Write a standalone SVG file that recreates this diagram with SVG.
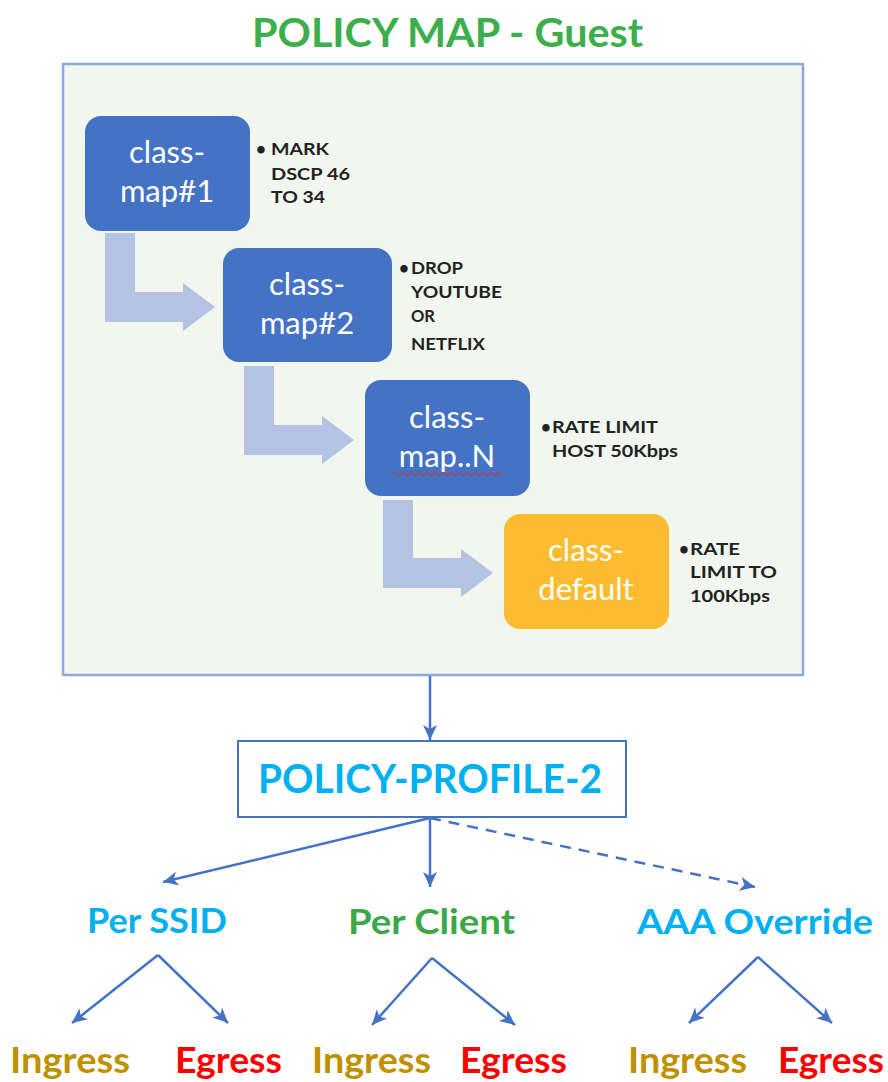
<svg xmlns="http://www.w3.org/2000/svg" width="888" height="1082" viewBox="0 0 888 1082">
<defs>
<marker id="ah" markerUnits="userSpaceOnUse" markerWidth="16" markerHeight="14" refX="15" refY="7" orient="auto">
<path d="M0,0 L15,7 L0,14 L4,7 Z" fill="#4472c4"/>
</marker>
<style>
.cm{fill:#4472c4;}
.cd{fill:#fcbc30;}
.cmt{font-family:Lato,"Liberation Sans",sans-serif;font-size:31px;fill:#ffffff;text-anchor:middle;}
.note{font-family:Lato,"Liberation Sans",sans-serif;font-size:17px;font-weight:bold;fill:#222222;}
.big{font-family:Lato,"Liberation Sans",sans-serif;font-weight:bold;}
.bent{fill:#b4c2e3;}
.ln{stroke:#4472c4;stroke-width:2.5;fill:none;marker-end:url(#ah);}
</style>
</defs>
<rect width="888" height="1082" fill="#ffffff"/>

<g id="title">
<text class="big" x="252" y="47" font-size="40" fill="#3cae4b" textLength="391" lengthAdjust="spacingAndGlyphs">POLICY MAP - Guest</text>
</g>

<g id="policy-map">
<rect x="63" y="64" width="740" height="611" fill="#f1f6ee" stroke="#8eaadc" stroke-width="2.5"/>
</g>

<g id="connectors">
<path class="bent" d="M105,233 L135,233 L135,292 L183,292 L183,283 L215,307 L183,331 L183,322 L105,322 Z"/>
<path class="bent" d="M244,366 L274,366 L274,425 L322,425 L322,416 L354,440 L322,464 L322,455 L244,455 Z"/>
<path class="bent" d="M383,500 L413,500 L413,558 L461,558 L461,549 L493,573 L461,597 L461,588 L383,588 Z"/>
<line class="ln" x1="430" y1="676" x2="430" y2="740"/>
<line class="ln" x1="430" y1="818" x2="163" y2="882"/>
<line class="ln" x1="430" y1="818" x2="430" y2="887"/>
<line class="ln" x1="430" y1="818" x2="755" y2="887" stroke-dasharray="11,8"/>
<line class="ln" x1="158" y1="955" x2="72" y2="1023"/>
<line class="ln" x1="158" y1="955" x2="228" y2="1023"/>
<line class="ln" x1="432" y1="958" x2="372" y2="1025"/>
<line class="ln" x1="432" y1="958" x2="515" y2="1025"/>
<line class="ln" x1="758" y1="957" x2="689" y2="1023"/>
<line class="ln" x1="758" y1="957" x2="832" y2="1023"/>
</g>

<g id="class-map-1">
<rect class="cm" x="85" y="116" width="165" height="115" rx="16"/>
<text class="cmt" x="167" y="163">class-</text>
<text class="cmt" x="167" y="202">map#1</text>
<text class="note" x="256" y="155">•</text>
<text class="note" x="271" y="155" textLength="58" lengthAdjust="spacingAndGlyphs">MARK</text>
<text class="note" x="271" y="180" textLength="79" lengthAdjust="spacingAndGlyphs">DSCP 46</text>
<text class="note" x="271" y="203" textLength="54" lengthAdjust="spacingAndGlyphs">TO 34</text>
</g>

<g id="class-map-2">
<rect class="cm" x="223" y="248" width="169" height="114" rx="16"/>
<text class="cmt" x="307" y="295">class-</text>
<text class="cmt" x="307" y="334">map#2</text>
<text class="note" x="399" y="274">•</text>
<text class="note" x="411" y="274" textLength="52" lengthAdjust="spacingAndGlyphs">DROP</text>
<text class="note" x="411" y="298" textLength="91" lengthAdjust="spacingAndGlyphs">YOUTUBE</text>
<text class="note" x="411" y="322" textLength="24" lengthAdjust="spacingAndGlyphs">OR</text>
<text class="note" x="411" y="350" textLength="74" lengthAdjust="spacingAndGlyphs">NETFLIX</text>
</g>

<g id="class-map-n">
<rect class="cm" x="365" y="380" width="165" height="116" rx="16"/>
<text class="cmt" x="447" y="428">class-</text>
<text class="cmt" x="447" y="467">map..N</text>
<path d="M393,474 q2,-3 4,0 t4,0 t4,0 t4,0 t4,0 t4,0 t4,0 t4,0 t4,0 t4,0 t4,0 t4,0 t4,0 t4,0 t4,0 t4,0 t4,0 t4,0 t4,0 t4,0 t4,0 t4,0 t4,0 t4,0 t4,0 t4,0 t4,0" fill="none" stroke="#d9342b" stroke-width="1.2"/>
<text class="note" x="541" y="433">•</text>
<text class="note" x="552" y="433" textLength="106" lengthAdjust="spacingAndGlyphs">RATE LIMIT</text>
<text class="note" x="552" y="457" textLength="126" lengthAdjust="spacingAndGlyphs">HOST 50Kbps</text>
</g>

<g id="class-default">
<rect class="cd" x="504" y="514" width="165" height="115" rx="16"/>
<text class="cmt" x="586" y="561">class-</text>
<text class="cmt" x="586" y="600">default</text>
<text class="note" x="679" y="555">•</text>
<text class="note" x="690" y="555" textLength="50" lengthAdjust="spacingAndGlyphs">RATE</text>
<text class="note" x="690" y="578" textLength="87" lengthAdjust="spacingAndGlyphs">LIMIT TO</text>
<text class="note" x="690" y="602" textLength="80" lengthAdjust="spacingAndGlyphs">100Kbps</text>
</g>

<g id="policy-profile">
<rect x="238" y="741" width="388" height="76" fill="#ffffff" stroke="#4472c4" stroke-width="2"/>
<text class="big" x="258" y="793" font-size="41" fill="#00b0f0" textLength="344" lengthAdjust="spacingAndGlyphs">POLICY-PROFILE-2</text>
</g>

<g id="per-ssid">
<text class="big" x="87" y="933" font-size="35" fill="#00b0f0" textLength="140" lengthAdjust="spacingAndGlyphs">Per SSID</text>
</g>
<g id="per-client">
<text class="big" x="348" y="934" font-size="35" fill="#3aa845" textLength="167" lengthAdjust="spacingAndGlyphs">Per Client</text>
</g>
<g id="aaa-override">
<text class="big" x="637" y="934" font-size="35" fill="#00b0f0" textLength="236" lengthAdjust="spacingAndGlyphs">AAA Override</text>
</g>

<g id="ssid-ingress"><text class="big" x="10" y="1073" font-size="36" fill="#bf9000" textLength="120" lengthAdjust="spacingAndGlyphs">Ingress</text></g>
<g id="ssid-egress"><text class="big" x="175" y="1073" font-size="36" fill="#ff0000" textLength="107" lengthAdjust="spacingAndGlyphs">Egress</text></g>
<g id="client-ingress"><text class="big" x="312" y="1073" font-size="36" fill="#bf9000" textLength="119" lengthAdjust="spacingAndGlyphs">Ingress</text></g>
<g id="client-egress"><text class="big" x="460" y="1073" font-size="36" fill="#ff0000" textLength="107" lengthAdjust="spacingAndGlyphs">Egress</text></g>
<g id="aaa-ingress"><text class="big" x="628" y="1073" font-size="36" fill="#bf9000" textLength="119" lengthAdjust="spacingAndGlyphs">Ingress</text></g>
<g id="aaa-egress"><text class="big" x="778" y="1073" font-size="36" fill="#ff0000" textLength="106" lengthAdjust="spacingAndGlyphs">Egress</text></g>
</svg>
